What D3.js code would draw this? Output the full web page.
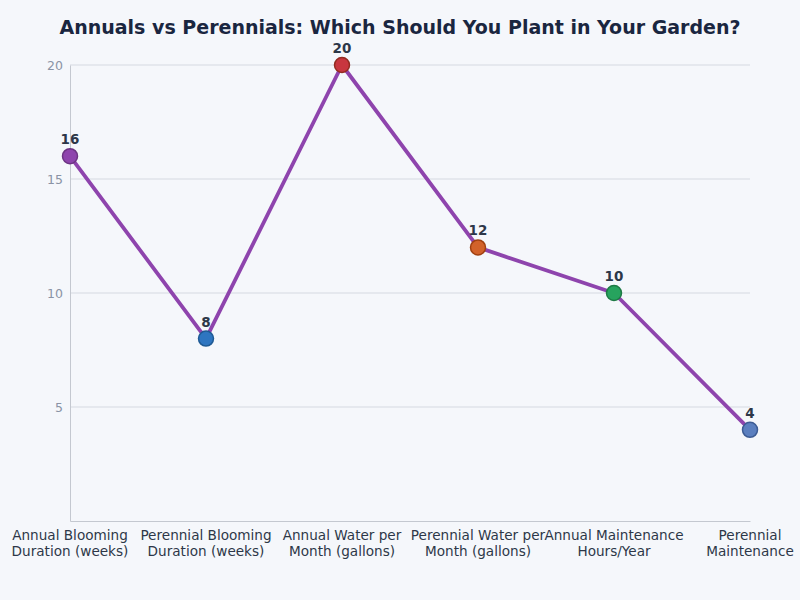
<!DOCTYPE html>
<html><head><meta charset="utf-8">
<script src="https://cdn.jsdelivr.net/npm/d3@7"></script>
<style>body{margin:0;background:#f5f7fb;}svg{display:block;font-family:"DejaVu Sans",sans-serif;}</style>
</head><body><svg id="c" width="800" height="600"></svg>
<script>
const categories = [
  ["Annual Blooming","Duration (weeks)"],
  ["Perennial Blooming","Duration (weeks)"],
  ["Annual Water per","Month (gallons)"],
  ["Perennial Water per","Month (gallons)"],
  ["Annual Maintenance","Hours/Year"],
  ["Perennial","Maintenance"]
];
const values = [16, 8, 20, 12, 10, 4];
const pointColors = ["#8e44ad","#2e75c0","#c8363f","#d2622a","#27a35e","#5b7fbf"];
const pointStrokes = ["#6c3483","#1f5a94","#922b21","#a04010","#1e7a45","#3d5c94"];
const yTicks = [5, 10, 15, 20];

const svg = d3.select("#c");
svg.append("rect").attr("width",800).attr("height",600).attr("fill","#f5f7fb");
const m = {l:70, r:750, t:65, b:521};
const x = d3.scalePoint().domain(d3.range(values.length)).range([m.l, m.r]);
const y = d3.scaleLinear().domain([0, 20]).range([m.b, m.t]);

svg.append("text").attr("x",400).attr("y",34).attr("text-anchor","middle")
  .attr("font-size",19).attr("font-weight","bold").attr("fill","#1a2640")
  .text("Annuals vs Perennials: Which Should You Plant in Your Garden?");

svg.append("g").selectAll("line").data(yTicks).join("line")
  .attr("x1",m.l).attr("x2",m.r).attr("y1",d=>y(d)).attr("y2",d=>y(d))
  .attr("stroke","#d5d9e1").attr("stroke-width",1);

const ya = svg.append("g").attr("transform",`translate(${m.l},0)`)
  .call(d3.axisLeft(y).tickValues(yTicks).tickSize(0).tickPadding(7));
ya.select(".domain").attr("stroke","#c4c8d0");
ya.selectAll("text").attr("font-size",12.5).attr("fill","#8a93a5").attr("font-family","DejaVu Sans");

const xa = svg.append("g").attr("transform",`translate(0,${m.b})`)
  .call(d3.axisBottom(x).tickSize(0).tickFormat(""));
xa.select(".domain").attr("stroke","#c4c8d0");
const xl = svg.append("g");
categories.forEach((c,i)=>{
  const t = xl.append("text").attr("x",x(i)).attr("y",540).attr("text-anchor","middle")
    .attr("font-size",13.6).attr("fill","#2d3748");
  c.forEach((line,j)=>t.append("tspan").attr("x",x(i)).attr("dy",j===0?0:15.5).text(line));
});

svg.append("path").datum(values)
  .attr("d", d3.line().x((d,i)=>x(i)).y(d=>y(d)))
  .attr("fill","none").attr("stroke","#8e44ad").attr("stroke-width",3.8).attr("stroke-linejoin","round");

svg.append("g").selectAll("circle").data(values).join("circle")
  .attr("cx",(d,i)=>x(i)).attr("cy",d=>y(d)).attr("r",7.5)
  .attr("fill",(d,i)=>pointColors[i]).attr("stroke",(d,i)=>pointStrokes[i]).attr("stroke-width",1.5);

svg.append("g").selectAll("text").data(values).join("text")
  .attr("x",(d,i)=>x(i)).attr("y",d=>y(d)-12).attr("text-anchor","middle")
  .attr("font-size",13.5).attr("font-weight","bold").attr("fill","#2d3748")
  .text(d=>d);
</script></body></html>
